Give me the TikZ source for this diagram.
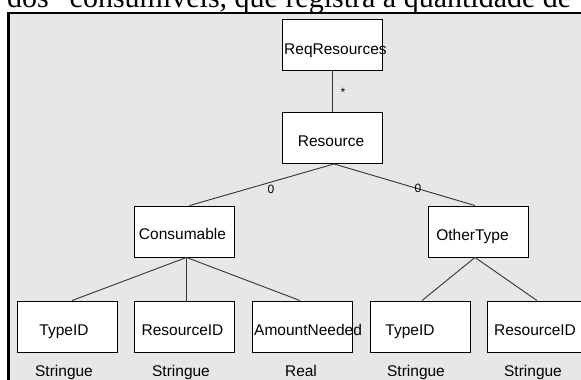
\documentclass[tikz,border=0pt]{standalone}
\usepackage{fontspec}
\newfontfamily\uisans{Liberation Sans}
\newfontfamily\bodyserif{Liberation Serif}
\definecolor{panelgray}{HTML}{E7E7E7}
\definecolor{linkgray}{HTML}{333333}
\tikzset{
  box/.style={draw=black, line width=0.9pt, fill=white, minimum width=100pt,
              minimum height=51pt, inner sep=0pt},
  lbl/.style={inner sep=0pt, font=\uisans\fontsize{15.5}{18}\selectfont},
  mult/.style={inner sep=0pt, font=\uisans\fontsize{12}{14}\selectfont},
  conn/.style={draw=linkgray, line width=0.9pt},
}
\begin{document}
\begin{tikzpicture}[x=1pt,y=-1pt]
\useasboundingbox (0,0) rectangle (581,380);
\clip (0,0) rectangle (581,380);

% running text of the page above the figure
\node[anchor=base west, inner sep=0pt, font=\bodyserif\fontsize{30}{34}\selectfont]
  (caption) at (7,7.5) {dos “consumíveis, que registra a quantidade de};

% figure panel and its frame
\fill[panelgray] (9,13) rectangle (620,420);
\draw[black, line width=2.4pt] (8.5,420) -- (8.5,13) -- (620,13);

% class boxes
\node[box] (req)  at (332,45)    {};
\node[box] (res)  at (332,138)   {};
\node[box] (cons) at (184.5,231.5) {};
\node[box] (oth)  at (478,231.5) {};
\node[box] (t1)   at (67,326.5)  {};
\node[box] (r1)   at (184.5,326.5) {};
\node[box] (amt)  at (302,326.5) {};
\node[box] (t2)   at (420,326.5) {};
\node[box] (r2)   at (537,326.5) {};

% connectors
\draw[conn] (req.south) -- (res.north);
\draw[conn] ([xshift=2pt]res.south) -- ([xshift=5pt]cons.north);
\draw[conn] ([xshift=2pt]res.south) -- ([xshift=-3pt]oth.north);
\draw[conn] ([xshift=2pt]cons.south) -- ([xshift=5pt]t1.north);
\draw[conn] ([xshift=2pt]cons.south) -- ([xshift=2pt]r1.north);
\draw[conn] ([xshift=2pt]cons.south) -- ([xshift=-2pt]amt.north);
\draw[conn] ([xshift=-3pt]oth.south) -- ([xshift=2pt]t2.north);
\draw[conn] ([xshift=-3pt]oth.south) -- ([xshift=0pt]r2.north);

% multiplicities
\node[mult] (mstar) at (343,92) {*};
\node[mult] (mz1)   at (271,189) {0};
\node[mult] (mz2)   at (418,188) {0};

% box titles
\node[lbl, anchor=base west] (treq) at (284,54) {ReqResources};
\node[lbl, anchor=base] (tres)  at (331,146) {Resource};
\node[lbl, anchor=base] (tcons) at (182.5,239.5) {Consumable};
\node[lbl, anchor=base] (toth)  at (472.5,240) {OtherType};
\node[lbl, anchor=base] (tt1)   at (64,335) {TypeID};
\node[lbl, anchor=base] (tr1)   at (182.5,335) {ResourceID};
\node[lbl, anchor=base west] (tamt) at (254,335) {AmountNeeded};
\node[lbl, anchor=base] (tt2)   at (410,335) {TypeID};
\node[lbl, anchor=base] (tr2)   at (535,335) {ResourceID};

% attribute types
\node[lbl, anchor=base] (s1) at (64,376)  {Stringue};
\node[lbl, anchor=base] (s2) at (181,376) {Stringue};
\node[lbl, anchor=base] (s3) at (301,376) {Real};
\node[lbl, anchor=base] (s4) at (416,376) {Stringue};
\node[lbl, anchor=base] (s5) at (533,376) {Stringue};
\end{tikzpicture}
\end{document}
